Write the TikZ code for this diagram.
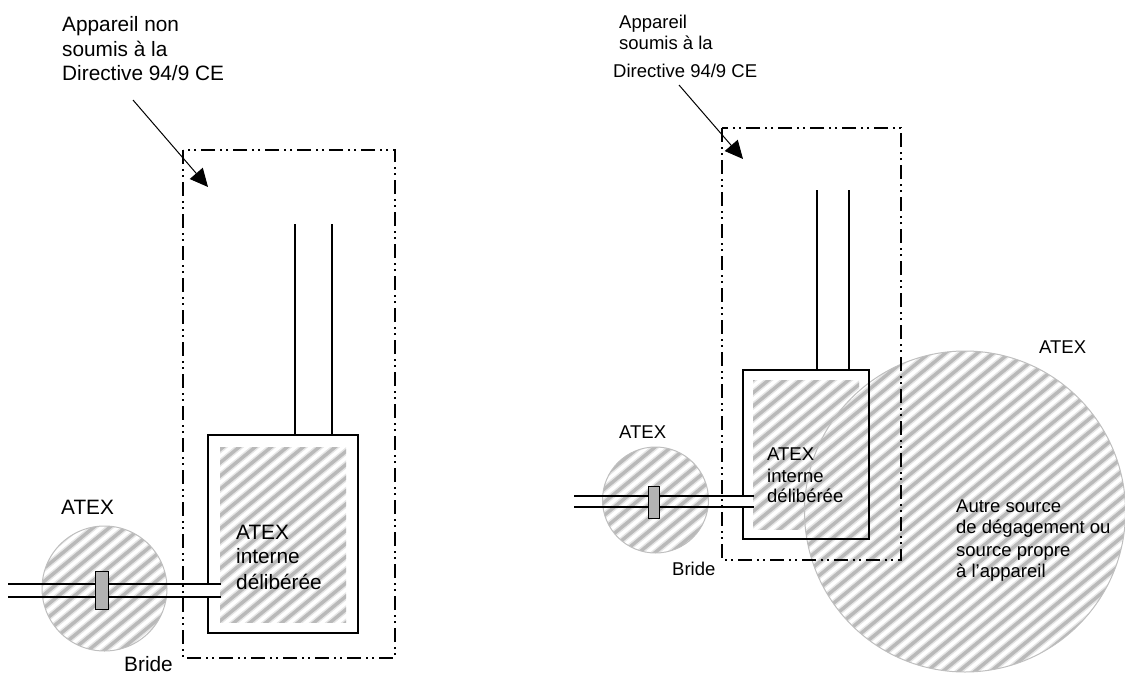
\documentclass[tikz,border=0pt]{standalone}
\usepackage{fontspec}
\setmainfont{Liberation Sans}
\usetikzlibrary{arrows.meta}
\tikzset{
    lbl/.style={inner sep=0pt, anchor=base west, font=\fontsize{20.8}{25}\selectfont},
    lblsmall/.style={inner sep=0pt, anchor=base west, font=\fontsize{18.5}{22}\selectfont},
    pipe/.style={line width=1.1pt, black},
    zone/.style={line width=2pt, black, dash pattern=on 14pt off 5pt on 2pt off 4pt on 2pt off 5pt},
    pointer/.style={line width=1pt, -{Triangle[length=18pt,width=17pt]}},
    bride/.style={draw=black, line width=1pt, fill=gray!60, inner sep=0pt},
    contour/.style={draw=gray!50, line width=1pt}
}
\newcommand{\hatchzone}{
    \foreach \s in {-900,-884,...,1200} {
        \draw[gray!20, line width=6.4pt] (\s,700) -- ++(850,-700);
        \draw[gray!55, line width=3.4pt] (\s,700) -- ++(850,-700);
    }
}
\begin{document}
\begin{tikzpicture}[x=1pt,y=-1pt]
    \useasboundingbox (0,0) rectangle (1125,675);

    % Left: hatched zones
    \begin{scope}
        \clip (220,447) rectangle (346,622);
        \hatchzone
    \end{scope}
    \begin{scope}
        \clip (104.5,588.5) circle (62.5);
        \hatchzone
    \end{scope}
    \draw[contour] (104.5,588.5) circle (62.5);

    % Left: equipment
    \draw[pipe, line width=1.3pt] (208,584) |- (358,435) |- (208,633) -- (208,597);
    \coordinate (p1) at (295,224);
    \coordinate (p2) at (332,224);
    \coordinate (p3) at (295,435);
    \coordinate (p4) at (332,435);
    \draw[pipe] (p1) -- (p3);
    \draw[pipe] (p2) -- (p4);
    \coordinate (l1) at (8,584);
    \coordinate (l2) at (221,584);
    \coordinate (l3) at (8,597);
    \coordinate (l4) at (221,597);
    \draw[pipe] (l1) -- (l2);
    \draw[pipe] (l3) -- (l4);
    \node[bride, minimum width=13pt, minimum height=37.5pt] (b1) at (102.2,590.5) {};
    \draw[zone] (183,150) rectangle (395,658);

    % Left: arrow
    \coordinate (a1) at (133,100);
    \coordinate (a2) at (208,187);
    \draw[pointer] (a1) -- (a2);

    % Left: labels
    \node[lbl] (t1) at (62,31) {Appareil non};
    \node[lbl] (t2) at (62,56) {soumis à la};
    \node[lbl] (t3) at (62,80) {Directive 94/9 CE};
    \node[lbl] (t4) at (61,514) {ATEX};
    \node[lbl] (t5) at (236,539) {ATEX};
    \node[lbl] (t6) at (236,563) {interne};
    \node[lbl] (t7) at (236,589) {délibérée};
    \node[lbl] (t8) at (124,671) {Bride};

    % Right: hatched zones
    \begin{scope}
        \clip (753,380) rectangle (859,529);
        \hatchzone
    \end{scope}
    \begin{scope}
        \clip (655.5,500) circle (53);
        \hatchzone
    \end{scope}
    \begin{scope}
        \clip (965,511.5) circle (160.5);
        \hatchzone
    \end{scope}
    \draw[contour] (655.5,500) circle (53);
    \draw[contour] (965,511.5) circle (160.5);

    % Right: equipment
    \draw[pipe, line width=1.3pt] (743,496) |- (869,370) |- (743,539) -- (743,507);
    \coordinate (p5) at (817,190);
    \coordinate (p6) at (849,190);
    \coordinate (p7) at (817,370);
    \coordinate (p8) at (849,370);
    \draw[pipe] (p5) -- (p7);
    \draw[pipe] (p6) -- (p8);
    \coordinate (l5) at (574,496);
    \coordinate (l6) at (754,496);
    \coordinate (l7) at (574,507);
    \coordinate (l8) at (754,507);
    \draw[pipe] (l5) -- (l6);
    \draw[pipe] (l7) -- (l8);
    \node[bride, minimum width=11pt, minimum height=32pt] (b2) at (653.5,502) {};
    \draw[zone] (722,128) rectangle (901,560);

    % Right: arrow
    \coordinate (a3) at (679,85);
    \coordinate (a4) at (743,159);
    \draw[pointer] (a3) -- (a4);

    % Right: labels
    \node[lblsmall] (t9) at (619,28) {Appareil};
    \node[lblsmall] (t10) at (619,49) {soumis à la};
    \node[lblsmall] (t11) at (613,77) {Directive 94/9 CE};
    \node[lblsmall] (t12) at (619,438) {ATEX};
    \node[lblsmall] (t13) at (767,460) {ATEX};
    \node[lblsmall] (t14) at (767,482) {interne};
    \node[lblsmall] (t15) at (767,502) {délibérée};
    \node[lblsmall] (t16) at (672,575) {Bride};
    \node[lblsmall] (t17) at (1039,353) {ATEX};
    \node[lblsmall] (t18) at (956,512) {Autre source};
    \node[lblsmall] (t19) at (956,533) {de dégagement ou};
    \node[lblsmall] (t20) at (956,556) {source propre};
    \node[lblsmall] (t21) at (956,577) {à l’appareil};
\end{tikzpicture}
\end{document}
